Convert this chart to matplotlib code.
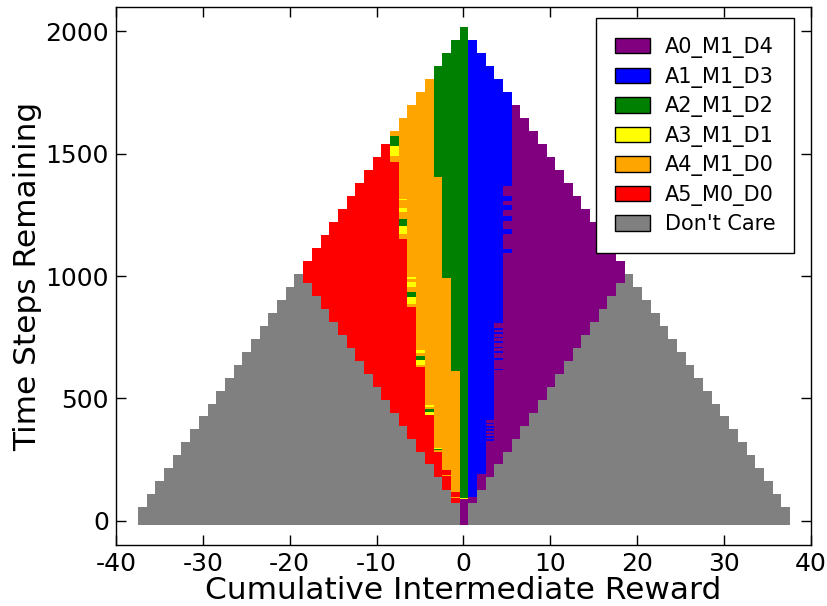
import numpy as np
import matplotlib
matplotlib.use("Agg")
import matplotlib.pyplot as plt
from matplotlib.colors import ListedColormap
from matplotlib.patches import Patch

plt.rcParams['axes.unicode_minus'] = False

# Actions, in legend order, and their colours
actions = ['A0_M1_D4', 'A1_M1_D3', 'A2_M1_D2', 'A3_M1_D1', 'A4_M1_D0', 'A5_M0_D0', "Don't Care"]
colors = ['purple', 'blue', 'green', 'yellow', 'orange', 'red', 'gray']
PURPLE, BLUE, GREEN, YELLOW, ORANGE, RED, GREY = range(7)

# Reward columns and time range of the policy table
reward = np.arange(-37, 38)
t_lo, t_hi = -17, 2016

# Top of the "don't care" region for |reward| = 0..37
grey_top = [-17, 71, 124, 177, 230, 283, 336, 389, 442, 495, 548, 601, 654,
            707, 760, 813, 866, 919, 972,
            1009, 956, 903, 850, 797, 744, 691, 638, 585, 532, 479, 426,
            373, 320, 267, 214, 161, 108, 55]
# Top of the reachable (coloured) region for |reward| = 0..18
reach_top = [2016, 1963, 1910, 1857, 1804, 1750, 1697, 1644, 1591, 1538,
             1485, 1432, 1379, 1325, 1272, 1219, 1166, 1113, 1060]

# Left side: red up to red_top for rewards -8..-1
red_top = {-8: 1463, -7: 1150, -6: 872, -5: 629, -4: 432, -3: 282, -2: 207, -1: 119}
# green from green_bottom upward for rewards -3..0
green_bottom = {-3: 1402, -2: 993, -1: 612, 0: 88}
# Right side: purple up to purple_top for rewards 1..5, blue above
purple_top = {1: 97, 2: 193, 3: 413, 4: 806, 5: 1365}

# Thin bands on top of the main regions: (reward, t from, t to, action)
streaks = [
    (-8, 1531, 1573, GREEN), (-8, 1488, 1529, YELLOW),
    (-7, 1308, 1314, YELLOW), (-7, 1259, 1279, YELLOW), (-7, 1204, 1234, GREEN), (-7, 1170, 1204, YELLOW),
    (-6, 988, 994, YELLOW), (-6, 956, 973, YELLOW), (-6, 915, 933, GREEN), (-6, 886, 913, YELLOW),
    (-5, 684, 697, YELLOW), (-5, 657, 674, GREEN), (-5, 636, 657, YELLOW),
    (-4, 466, 472, YELLOW), (-4, 445, 456, GREEN), (-4, 432, 443, YELLOW),
    (-3, 288, 293, GREEN), (-3, 293, 299, YELLOW),
    (-2, 181, 187, ORANGE), (-1, 92, 98, ORANGE),
    (0, 88, 95, YELLOW),
    (1, 106, 112, BLUE),
    (2, 201, 207, BLUE),
    (3, 395, 401, BLUE), (3, 381, 387, BLUE), (3, 368, 374, BLUE), (3, 354, 360, BLUE),
    (3, 340, 346, BLUE), (3, 327, 333, BLUE),
    (4, 781, 787, BLUE), (4, 763, 769, BLUE), (4, 745, 751, BLUE), (4, 728, 734, BLUE),
    (4, 705, 711, BLUE), (4, 687, 693, BLUE), (4, 657, 663, BLUE), (4, 614, 620, BLUE),
    (5, 1306, 1328, BLUE), (5, 1269, 1290, BLUE), (5, 1225, 1246, BLUE),
    (5, 1170, 1191, BLUE), (5, 1093, 1109, BLUE),
]

# Build the policy table, one row per time step
grid = np.full((t_hi - t_lo, len(reward)), np.nan)


def fill(x, a, b, act):
    grid[max(a - t_lo, 0):max(b - t_lo, 0), x + 37] = act


for x in reward:
    k = abs(x)
    fill(x, t_lo, grey_top[k], GREY)
    if k > 18:
        continue
    lo, top = max(grey_top[k], t_lo), reach_top[k]
    if x >= 6:
        fill(x, lo, top, PURPLE)
    elif x >= 1:
        fill(x, lo, purple_top[x], PURPLE)
        fill(x, purple_top[x], top, BLUE)
    elif x == 0:
        fill(x, lo, green_bottom[0], PURPLE)
        fill(x, green_bottom[0], top, GREEN)
    elif x <= -9:
        fill(x, lo, top, RED)
    else:
        fill(x, lo, red_top[x], RED)
        fill(x, red_top[x], top, ORANGE)
        if x in green_bottom:
            fill(x, green_bottom[x], top, GREEN)

for x, a, b, act in streaks:
    fill(x, a, b, act)

fig = plt.figure(figsize=(8.28, 6.06), dpi=100)
ax = fig.add_axes([0.140, 0.1007, 0.8395, 0.8877])

ax.imshow(grid, cmap=ListedColormap(colors), vmin=-0.5, vmax=6.5,
          origin='lower', aspect='auto', extent=(-37.5, 37.5, t_lo, t_hi),
          interpolation='nearest')

ax.set_xlim(-40, 40)
ax.set_ylim(-100, 2100)
ax.set_xticks(np.arange(-40, 41, 10))
ax.set_yticks(np.arange(0, 2001, 500))
ax.tick_params(direction='in', top=True, right=True, length=7, width=1, labelsize=18, pad=5)
for s in ax.spines.values():
    s.set_linewidth(1.0)

ax.set_xlabel('Cumulative Intermediate Reward', fontsize=22.5, labelpad=0)
ax.set_ylabel('Time Steps Remaining', fontsize=22.5, labelpad=2)

handles = [Patch(facecolor=c, edgecolor='black', linewidth=1.0) for c in colors]
ax.legend(handles, actions, loc='upper right', bbox_to_anchor=(0.9755, 0.979),
          borderaxespad=0, fontsize=15, fancybox=False, framealpha=1,
          edgecolor='black', handlelength=1.7, handleheight=0.75,
          labelspacing=0.41, handletextpad=0.7, borderpad=0.9)

fig.savefig('out.png', dpi=100)
